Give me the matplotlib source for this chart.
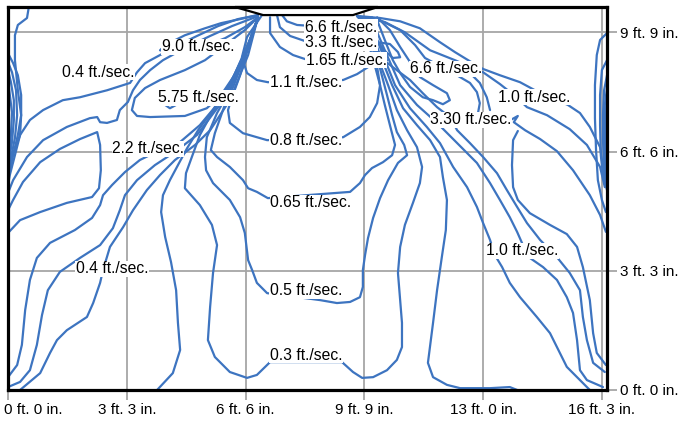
import matplotlib
matplotlib.use("Agg")
import matplotlib.pyplot as plt
from matplotlib.patches import Polygon
from matplotlib import transforms

plt.rcParams['font.family'] = ['Liberation Sans', 'DejaVu Sans']

LINE = '#3d74c0'
GRID = '#a6a6a6'

x_ticks = [0, 3.25, 6.5, 9.75, 13.0, 16.25]
x_labels = ['0 ft. 0 in.', '3 ft. 3 in.', '6 ft. 6 in.', '9 ft. 9 in.', '13 ft. 0 in.', '16 ft. 3 in.']
y_ticks = [0, 3.25, 6.5, 9.75]
y_labels = ['0 ft. 0 in.', '3 ft. 3 in.', '6 ft. 6 in.', '9 ft. 9 in.']

nozzle_x = [6.21, 6.98, 9.44, 10.12]
nozzle_y = [10.44, 10.22, 10.22, 10.44]

# ---- traced isolines (x ft, y ft) ----
# left wall
w_top_x = [0.57, 0.52, 0.27, 0.19, 0.19, 0.27, 0.36, 0.33, 0.19, 0.05, 0]
w_top_y = [10.44, 10.14, 9.95, 9.67, 8.99, 8.17, 7.49, 6.95, 6.40, 5.86, 5.59]
b1_x = [0, 0.14, 0.27, 0.36, 0.36, 0.27, 0.14, 0]
b1_y = [9.18, 8.91, 8.58, 8.04, 7.49, 6.95, 6.40, 5.78]
b2_x = [0, 0.11, 0.22, 0.25, 0.19, 0.08, 0]
b2_y = [8.94, 8.66, 8.17, 7.49, 6.87, 6.32, 5.86]
b3_x = [0, 0.08, 0.16, 0.16, 0.11, 0.03, 0]
b3_y = [8.72, 8.39, 7.90, 7.36, 6.76, 6.27, 5.94]
b4_x = [0, 0.05, 0.11, 0.08, 0.03, 0]
b4_y = [8.45, 8.04, 7.57, 6.95, 6.40, 6.05]

# left jet
u04_x = [6.84, 6.29, 5.75, 5.17, 4.65, 4.16, 3.75, 3.53, 3.34, 2.71, 1.97, 1.50, 0.96, 0.60, 0.33, 0.11, 0]
u04_y = [10.22, 10.11, 9.92, 9.65, 9.40, 9.13, 8.91, 8.66, 8.37, 8.17, 7.98, 7.90, 7.63, 7.36, 6.95, 6.35, 5.80]
u2_x = [6.84, 6.13, 5.53, 4.84, 4.24, 3.89, 3.61, 3.42, 3.28, 3.06, 2.98, 2.71, 2.52, 2.44, 2.24, 1.61, 0.96, 0.52, 0.14, 0]
u2_y = [10.19, 9.92, 9.65, 9.32, 8.99, 8.72, 8.45, 8.17, 7.85, 7.63, 7.36, 7.28, 7.30, 7.44, 7.41, 7.17, 6.81, 6.35, 5.72, 5.37]
peak_x = [0, 0.14, 0.41, 0.88, 1.42, 1.97, 2.44, 2.52, 2.54, 2.49, 2.30, 1.61, 0.88, 0.33, 0]
peak_y = [4.90, 5.18, 5.67, 6.21, 6.57, 6.84, 7.03, 6.68, 5.99, 5.50, 5.26, 5.10, 4.85, 4.63, 4.28]
v90_x = [6.84, 6.35, 5.83, 5.39, 4.84, 4.30, 4.16, 4.57, 5.25, 5.94, 6.48, 6.84]
v90_y = [10.22, 10.11, 10.00, 9.86, 9.67, 9.40, 9.26, 9.18, 9.32, 9.59, 9.89, 10.16]
v575_x = [6.84, 6.48, 5.94, 5.39, 4.84, 4.16, 3.75, 3.47, 3.39, 3.53, 3.89, 4.84, 5.44, 5.83, 6.29, 6.62, 6.84]
v575_y = [10.16, 9.81, 9.40, 8.99, 8.72, 8.45, 8.23, 7.96, 7.63, 7.47, 7.44, 7.47, 7.68, 8.04, 8.72, 9.48, 10.14]
dip_x = [4.30, 4.43, 4.60]
dip_y = [7.77, 7.68, 7.77]
lb_x = [0, 0.25, 0.38, 0.47, 0.60, 0.79, 1.15, 1.83, 2.30, 2.52, 2.60, 2.85, 3.20, 3.61, 4.16, 4.71, 5.25, 5.94, 6.57, 6.84]
lb_y = [0.35, 0.68, 1.23, 2.18, 3.00, 3.60, 4.01, 4.36, 4.69, 5.04, 5.31, 5.59, 5.94, 6.27, 6.54, 6.76, 7.22, 8.04, 9.40, 10.16]
lc_x = [0, 0.33, 0.60, 0.79, 0.93, 1.09, 1.42, 1.97, 2.52, 2.87, 3.06, 3.20, 3.53, 4.02, 4.57, 5.17, 5.83, 6.51, 6.84]
lc_y = [0.08, 0.22, 0.54, 1.23, 2.04, 2.72, 3.22, 3.60, 3.95, 4.41, 4.90, 5.31, 5.72, 6.13, 6.49, 6.95, 7.82, 9.13, 10.16]
ld_x = [0.33, 0.88, 1.15, 1.34, 1.61, 2.16, 2.33, 2.52, 2.60, 2.79, 3.15, 3.42, 3.80, 4.16, 4.57, 5.12, 5.53, 6.07, 6.57, 6.84]
ld_y = [0, 0.46, 1.01, 1.36, 1.63, 1.99, 2.37, 2.92, 3.27, 3.90, 4.44, 4.90, 5.45, 5.86, 6.27, 6.68, 7.08, 7.90, 9.13, 10.16]
le_x = [4.08, 4.51, 4.71, 4.65, 4.60, 4.46, 4.30, 4.19, 4.24, 4.43, 4.65, 4.90, 5.20, 5.61, 6.13, 6.62, 6.84]
le_y = [0, 0.46, 1.09, 1.83, 2.72, 3.49, 4.17, 4.85, 5.31, 5.72, 6.13, 6.59, 7.08, 7.63, 8.45, 9.54, 10.16]

# centre
c66_x = [7.50, 7.63, 7.91, 8.81, 9.63, 9.96]
c66_y = [10.22, 10.05, 9.95, 9.89, 9.97, 10.16]
c33_x = [7.36, 7.44, 7.72, 8.13, 10.12, 10.45, 10.67, 10.73, 10.53, 10.29, 10.04, 9.77, 9.58]
c33_y = [10.22, 9.89, 9.65, 9.51, 9.48, 9.43, 9.21, 9.07, 9.05, 9.26, 9.59, 10.03, 10.19]
c165_x = [7.17, 7.17, 7.44, 7.80, 8.13, 10.37, 10.18, 9.90, 9.63]
c165_y = [10.16, 9.73, 9.35, 9.13, 9.02, 8.99, 9.40, 9.81, 10.16]
c11_x = [6.95, 6.54, 6.40, 6.54, 6.81, 7.11, 9.17, 9.55, 9.85, 10.10, 10.01, 9.80, 9.58]
c11_y = [10.22, 9.62, 9.07, 8.64, 8.45, 8.39, 8.45, 8.61, 8.80, 9.13, 9.59, 9.97, 10.19]
c08_x = [6.84, 6.62, 6.35, 6.13, 6.02, 6.07, 6.43, 7.09, 9.17, 9.63, 9.90, 10.10, 10.18, 10.07, 9.90, 9.69, 9.55]
c08_y = [10.14, 9.54, 8.58, 7.98, 7.63, 7.28, 7.00, 6.81, 6.89, 7.17, 7.44, 7.82, 8.31, 8.99, 9.54, 10.03, 10.19]
c065_x = [6.84, 6.54, 6.18, 5.91, 5.66, 5.55, 5.72, 6.07, 6.43, 6.57, 6.81, 7.11,
          9.36, 9.63, 9.77, 9.96, 10.26, 10.51, 10.59, 10.45, 10.31, 10.18, 9.96, 9.63]
c065_y = [10.14, 9.26, 8.31, 7.71, 7.00, 6.54, 6.35, 6.08, 5.72, 5.50, 5.40, 5.23,
          5.40, 5.64, 5.86, 6.05, 6.21, 6.40, 6.68, 7.22, 7.77, 8.31, 9.13, 10.08]
c05_x = [6.84, 6.48, 6.07, 5.72, 5.44, 5.39, 5.42, 5.61, 6.07, 6.35, 6.48, 6.57, 6.68, 6.81, 7.09,
         8.54, 9.00, 9.36, 9.63, 9.71, 9.71, 9.77, 9.85, 9.99, 10.18, 10.40, 10.67, 10.92, 10.84,
         10.64, 10.51, 10.37, 10.12, 9.77]
c05_y = [10.14, 9.13, 8.17, 7.55, 6.89, 6.35, 5.99, 5.64, 5.18, 4.71, 4.28, 3.54, 3.27, 2.92, 2.64,
         2.45, 2.37, 2.40, 2.53, 2.81, 3.27, 3.68, 4.14, 4.69, 5.23, 5.72, 6.19, 6.40, 6.68,
         7.03, 7.49, 8.04, 8.99, 9.95]
c03_x = [6.84, 6.40, 5.91, 5.58, 5.25, 5.03, 4.87, 4.84, 5.25, 5.58, 5.72, 5.61, 5.53, 5.47, 5.66,
         6.07, 6.54, 6.81, 7.17, 9.14, 9.44, 9.69, 9.99, 10.37, 10.64, 10.78, 10.78, 10.73, 10.67,
         10.73, 10.86, 11.08, 11.27, 11.33, 11.19, 10.92, 10.64, 10.40, 10.04, 9.69]
c03_y = [10.14, 8.99, 8.04, 7.55, 6.95, 6.35, 5.91, 5.50, 5.04, 4.50, 3.95, 3.19, 2.26, 1.36, 0.90,
         0.49, 0.33, 0.41, 0.76, 0.76, 0.49, 0.33, 0.35, 0.54, 0.82, 1.17, 1.83, 2.45, 3.19,
         3.90, 4.50, 5.10, 5.64, 6.08, 6.62, 7.08, 7.63, 8.31, 9.26, 10.08]

# right jet
r66_x = [9.55, 10.18, 10.73, 11.14, 11.41, 11.82, 12.23, 12.64, 12.83, 12.91, 12.86]
r66_y = [10.19, 10.08, 9.81, 9.40, 9.05, 8.83, 8.61, 8.37, 8.12, 7.82, 7.55]
ra_x = [10.10, 10.45, 10.73, 11.00, 11.27, 11.63, 12.01, 12.09, 11.90, 11.63, 11.35, 11.00, 10.73, 10.53, 10.31, 10.10]
ra_y = [10.16, 9.81, 9.35, 8.94, 8.53, 8.31, 8.09, 7.90, 7.79, 7.90, 7.98, 8.26, 8.64, 8.99, 9.54, 10.08]
r10_x = [9.63, 10.18, 10.73, 11.27, 11.82, 12.23, 12.64, 13.00, 13.46, 14.01, 14.42, 14.83, 15.32, 15.65, 15.92, 16.20, 16.28, 16.36]
r10_y = [10.19, 10.14, 10.05, 9.86, 9.48, 9.21, 8.96, 8.75, 8.58, 8.39, 8.17, 7.98, 7.77, 7.55, 7.17, 6.62, 6.08, 5.59]
r09_x = [9.69, 10.31, 10.86, 11.55, 12.23, 13.00, 13.46, 13.88, 14.20, 14.75, 15.37, 15.84, 16.20, 16.33]
r09_y = [10.16, 10.03, 9.75, 9.26, 8.99, 8.66, 8.34, 8.01, 7.71, 7.49, 7.11, 6.68, 6.08, 5.53]
rx2_x = [12.37, 12.64, 12.91, 13.10, 13.19]
rx2_y = [8.77, 8.64, 8.37, 7.98, 7.63]
r330_x = [9.69, 9.96, 10.18, 10.53, 11.00, 11.35, 11.74, 12.09, 12.29, 12.64, 13.00, 13.38, 13.65, 13.93,
          14.20, 14.56, 15.02, 15.37, 15.65, 15.73, 15.84, 16.01, 16.33]
r330_y = [10.14, 9.67, 9.07, 8.80, 8.45, 8.09, 7.71, 7.44, 7.08, 6.73, 6.35, 5.91, 5.45, 4.99,
          4.55, 4.09, 3.62, 3.19, 2.72, 1.99, 1.36, 0.74, 0.49]
ry_x = [13.79, 13.95, 13.84, 14.15, 14.56, 15.02, 15.46, 15.92, 16.20, 16.36]
ry_y = [7.38, 7.47, 7.30, 7.08, 6.84, 6.51, 5.99, 5.31, 4.77, 4.31]
rz_x = [13.95, 13.82, 13.79, 13.82, 13.95, 14.28, 14.83, 15.29, 15.57, 15.73, 15.92, 16.01, 16.11, 16.36]
rz_y = [7.06, 6.81, 6.13, 5.53, 5.18, 4.82, 4.50, 4.25, 3.90, 3.35, 2.45, 1.55, 1.01, 0.68]
rb_x = [14.06, 13.73, 13.19, 12.37, 12.01, 11.63, 11.49, 11.63, 11.74, 11.87, 11.98, 12.01, 11.90, 11.82,
        11.55, 11.19, 10.81, 10.51, 10.18, 9.85]
rb_y = [-0.05, 0.08, 0.05, 0.05, 0.14, 0.35, 0.74, 1.83, 2.72, 3.62, 4.36, 5.18, 5.80, 6.35,
        6.81, 7.22, 7.68, 8.31, 9.13, 10.03]
rl1_x = [15.92, 15.65, 15.29, 15.02, 14.83, 14.47, 14.01, 13.73, 13.52, 13.32, 13.19, 13.00, 12.83, 12.56,
         12.18, 11.82, 11.46, 11.00, 10.59, 10.23, 9.90]
rl1_y = [0, 0.27, 0.63, 1.17, 1.55, 1.99, 2.53, 2.92, 3.35, 3.68, 4.09, 4.55, 4.99, 5.53,
         6.08, 6.73, 7.17, 7.68, 8.31, 9.21, 10.08]
rl2_x = [16.28, 15.84, 15.65, 15.57, 15.46, 15.29, 15.02, 14.64, 14.28, 14.09, 13.93, 13.73, 13.46, 13.19,
         12.83, 12.29, 11.74, 11.19, 10.73, 10.31, 9.96]
rl2_y = [0.08, 0.27, 0.54, 1.36, 2.10, 2.53, 3.00, 3.35, 3.60, 3.95, 4.31, 4.71, 5.18, 5.64,
         6.19, 6.73, 7.28, 7.77, 8.31, 9.26, 10.08]

# right wall
rw1_x = [16.39, 16.20, 16.11, 16.06, 16.06, 16.09, 16.14, 16.25, 16.36]
rw1_y = [9.73, 9.54, 9.13, 8.31, 7.41, 6.54, 5.72, 5.18, 4.85]
rw2_x = [16.39, 16.25, 16.20, 16.20, 16.22, 16.28, 16.39]
rw2_y = [8.99, 8.72, 8.04, 7.22, 6.40, 5.86, 5.45]
rw3_x = [16.39, 16.31, 16.28, 16.28, 16.31, 16.39]
rw3_y = [8.58, 8.17, 7.49, 6.81, 6.13, 5.59]
rw4_x = [16.39, 16.33, 16.33, 16.33, 16.39]
rw4_y = [8.23, 7.77, 7.08, 6.40, 5.72]
rw5_x = [16.39, 16.36, 16.36, 16.39]
rw5_y = [7.90, 7.36, 6.68, 5.99]

lines = [
    (w_top_x, w_top_y), (b1_x, b1_y), (b2_x, b2_y), (b3_x, b3_y), (b4_x, b4_y),
    (u04_x, u04_y), (u2_x, u2_y), (peak_x, peak_y), (v90_x, v90_y), (v575_x, v575_y),
    (dip_x, dip_y), (lb_x, lb_y), (lc_x, lc_y), (ld_x, ld_y), (le_x, le_y),
    (c66_x, c66_y), (c33_x, c33_y), (c165_x, c165_y), (c11_x, c11_y), (c08_x, c08_y),
    (c065_x, c065_y), (c05_x, c05_y), (c03_x, c03_y),
    (r66_x, r66_y), (ra_x, ra_y), (r10_x, r10_y), (r09_x, r09_y), (rx2_x, rx2_y),
    (r330_x, r330_y), (ry_x, ry_y), (rz_x, rz_y), (rb_x, rb_y), (rl1_x, rl1_y), (rl2_x, rl2_y),
    (rw1_x, rw1_y), (rw2_x, rw2_y), (rw3_x, rw3_y), (rw4_x, rw4_y), (rw5_x, rw5_y),
]

labels = [
    ('9.0 ft./sec.', 5.20, 9.35), ('0.4 ft./sec.', 2.46, 8.66),
    ('6.6 ft./sec.', 9.11, 9.89), ('3.3 ft./sec.', 9.11, 9.46),
    ('1.65 ft./sec.', 9.25, 8.99), ('6.6 ft./sec.', 11.98, 8.75),
    ('1.1 ft./sec.', 8.15, 8.37), ('1.0 ft./sec.', 14.39, 7.98),
    ('5.75 ft./sec.', 5.20, 7.96), ('3.30 ft./sec.', 12.67, 7.36),
    ('2.2 ft./sec.', 3.83, 6.57), ('0.8 ft./sec.', 8.15, 6.81),
    ('0.65 ft./sec.', 8.29, 5.10), ('1.0 ft./sec.', 14.07, 3.79),
    ('0.4 ft./sec.', 2.85, 3.30), ('0.5 ft./sec.', 8.15, 2.70),
    ('0.3 ft./sec.', 8.15, 0.95),
]

fig = plt.figure(figsize=(6.8, 4.24), dpi=100)
ax = fig.add_axes([0.01176, 0.0802, 0.8809, 0.9033])
ax.set_xlim(0, 16.39)
ax.set_ylim(0, 10.44)

ax.set_xticks(x_ticks)
ax.set_xticklabels(x_labels)
ax.set_yticks(y_ticks)
ax.set_yticklabels(y_labels)
ax.yaxis.tick_right()
ax.tick_params(axis='both', length=7, width=1.3, color=GRID, labelsize=11, pad=2.5)
ax.grid(True, color=GRID, lw=1.3)
ax.set_axisbelow(True)
for s in ax.spines.values():
    s.set_linewidth(2.3)
    s.set_color('black')
    s.set_zorder(7)

first = ax.get_xticklabels()[0]
first.set_horizontalalignment('left')
first.set_transform(first.get_transform() + transforms.ScaledTranslation(-4/100, 0, fig.dpi_scale_trans))

for xs, ys in lines:
    ax.plot(xs, ys, color=LINE, lw=1.6, solid_joinstyle='round', solid_capstyle='round', zorder=3)

ax.add_patch(Polygon(list(zip(nozzle_x, nozzle_y)), closed=True, facecolor='white',
                     edgecolor='black', lw=1.6, zorder=5, clip_on=False))

for t, x, y in labels:
    ax.text(x, y, t, fontsize=11.3, ha='center', va='center', zorder=6,
            bbox=dict(facecolor='white', edgecolor='none', pad=0.3))

fig.savefig('out.png', dpi=100)
